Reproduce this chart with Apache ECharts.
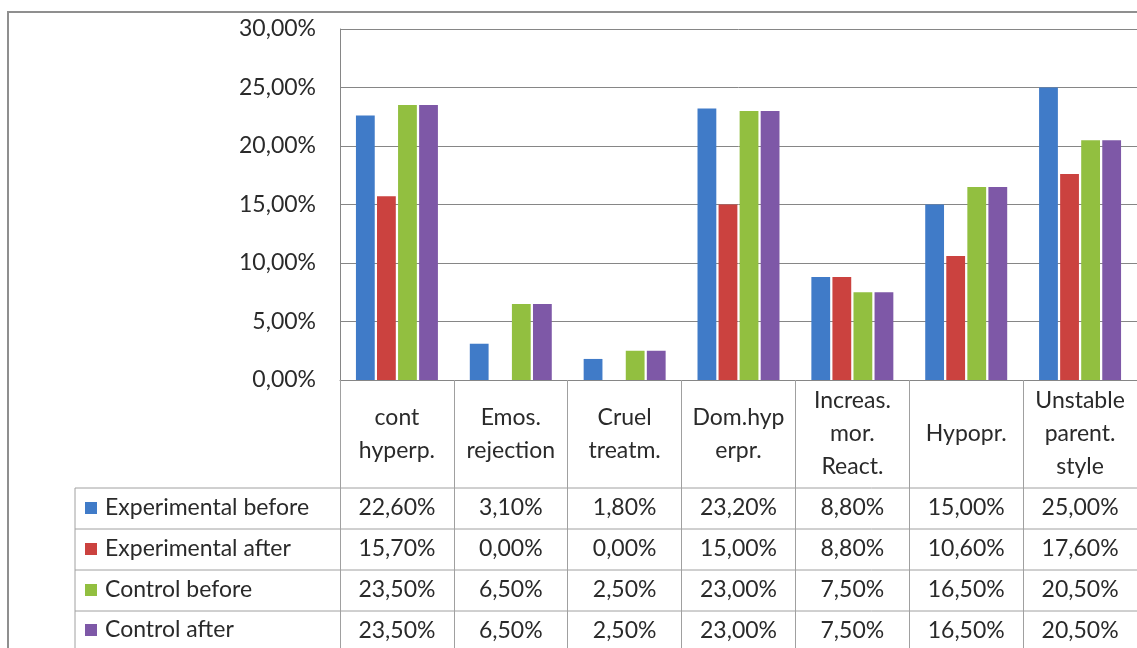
<!DOCTYPE html>
<html>
<head>
<meta charset="utf-8">
<script src="https://cdn.jsdelivr.net/npm/echarts@6/dist/echarts.min.js"></script>
<style>html,body{margin:0;padding:0;background:#fff}#c{width:1137px;height:648px}</style>
</head>
<body>
<div id="c"></div>
<script>
const categories = ['cont\nhyperp.', 'Emos.\nrejection', 'Cruel\ntreatm.', 'Dom.hyp\nerpr.', 'Increas.\nmor.\nReact.', 'Hypopr.', 'Unstable\nparent.\nstyle'];
const seriesNames = ['Experimental before', 'Experimental after', 'Control before', 'Control after'];
const expBefore = [22.6, 3.1, 1.8, 23.2, 8.8, 15.0, 25.0];
const expAfter = [15.7, 0.0, 0.0, 15.0, 8.8, 10.6, 17.6];
const ctrlBefore = [23.5, 6.5, 2.5, 23.0, 7.5, 16.5, 20.5];
const ctrlAfter = [23.5, 6.5, 2.5, 23.0, 7.5, 16.5, 20.5];
const yTicks = [0, 5, 10, 15, 20, 25, 30];
const colors = ['#407BC8', '#CB423F', '#92BF40', '#7E58A7'];

const allValues = [expBefore, expAfter, ctrlBefore, ctrlAfter];
const fmt = v => v.toFixed(2).replace('.', ',') + '%';
const FONT = 'Lato';
const TXT = '#2a2a2a';

const chart = echarts.init(document.getElementById('c'));

const rowMargins = [128, 169, 210, 251];
const rowLines = [488, 529, 570, 611];

const xAxes = [{
  type: 'category', data: categories, gridIndex: 0, position: 'bottom',
  axisLine: {show: true, lineStyle: {color: '#868686', width: 1}},
  axisTick: {show: true, length: 268, alignWithLabel: false, lineStyle: {color: '#a0a0a0', width: 1}},
  axisLabel: {margin: 54, verticalAlign: 'middle', lineHeight: 33, fontFamily: FONT, fontSize: 23, color: TXT, interval: 0},
  splitLine: {show: false}
}];
allValues.forEach((vals, i) => {
  xAxes.push({
    type: 'category', data: vals.map(fmt), gridIndex: 0, position: 'bottom',
    axisLine: {show: false}, axisTick: {show: false}, splitLine: {show: false},
    axisLabel: {margin: rowMargins[i], verticalAlign: 'middle', fontFamily: FONT, fontSize: 23, color: TXT, interval: 0}
  });
});

const graphics = [
  {type: 'rect', shape: {x: 8, y: 12, width: 1200, height: 700}, style: {fill: 'none', stroke: '#8f8f8f', lineWidth: 2}, silent: true},
  {type: 'line', shape: {x1: 75, y1: 488, x2: 75, y2: 648}, style: {stroke: '#a0a0a0', lineWidth: 1}, silent: true}
];
rowLines.forEach(y => graphics.push({type: 'line', shape: {x1: 75, y1: y, x2: 1137, y2: y}, style: {stroke: '#a0a0a0', lineWidth: 1}, silent: true}));
seriesNames.forEach((n, i) => {
  const yc = [508, 549, 590, 630][i];
  graphics.push({type: 'rect', shape: {x: 85, y: yc - 6, width: 12, height: 12}, style: {fill: colors[i]}, silent: true});
  graphics.push({type: 'text', x: 105, y: yc, style: {text: n, fontFamily: FONT, fontSize: 23, fill: TXT, verticalAlign: 'middle', align: 'left'}, silent: true});
});

chart.setOption({
  animation: false,
  backgroundColor: '#fff',
  grid: {left: 340, top: 29, width: 806, height: 351, containLabel: false},
  xAxis: xAxes,
  yAxis: {
    type: 'value', min: 0, max: 30, interval: 5,
    axisLine: {show: true, lineStyle: {color: '#868686'}},
    axisTick: {show: false},
    splitLine: {show: true, lineStyle: {color: '#868686', width: 1}},
    axisLabel: {margin: 24, fontFamily: FONT, fontSize: 23, color: TXT, formatter: v => fmt(v)}
  },
  series: allValues.map((vals, i) => ({
    type: 'bar', name: seriesNames[i], data: vals, xAxisIndex: 0,
    barGap: '12%', barCategoryGap: '28%',
    itemStyle: {color: colors[i]}
  })),
  graphic: graphics
});
</script>
</body>
</html>
